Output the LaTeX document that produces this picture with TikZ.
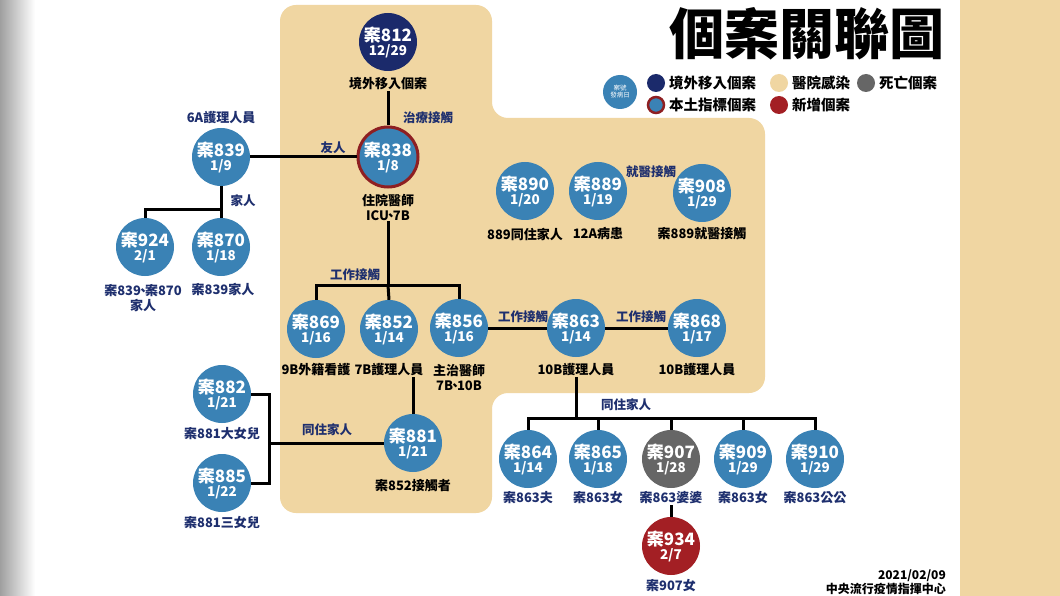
\documentclass[tikz,border=0pt]{standalone}
\usepackage{fontspec}
\setmainfont{Noto Sans CJK TC}
\definecolor{navy}{HTML}{1B2A6B}
\definecolor{cblue}{HTML}{3A82B5}
\definecolor{beige}{HTML}{F0D6A2}
\definecolor{dred}{HTML}{A31F24}
\definecolor{ring}{HTML}{8E1F22}
\definecolor{dgray}{HTML}{666666}
\definecolor{lbl}{HTML}{1E2F6E}
\begin{document}
\begin{tikzpicture}[x=1pt,y=-1pt,
  cs/.style={circle,minimum size=58pt,inner sep=0pt,fill=cblue,text=white,align=center,font=\bfseries\fontsize{17}{17}\selectfont},
  lb/.style={font=\bfseries\fontsize{13}{15}\selectfont,text=black,align=center,inner sep=1pt},
  nl/.style={lb,text=lbl},
  el/.style={font=\bfseries\fontsize{12.5}{13}\selectfont,text=lbl,inner sep=1pt},
  ln/.style={line width=3pt},
  lg/.style={font=\bfseries\fontsize{14.5}{14}\selectfont,anchor=west,inner sep=0pt}]
\newcommand{\cn}[2]{#1\\[-3pt]{\fontsize{13.5}{13.5}\selectfont #2}}
\newcommand{\dun}{\kern-4.5pt、\kern-4.5pt}
\useasboundingbox (0,0) rectangle (1060,596);
\fill[white] (0,0) rectangle (1060,596);
\shade[left color=gray!75,right color=white] (0,0) rectangle (35,596);
\fill[beige] (960,0) rectangle (1060,596);
\fill[beige,rounded corners=16pt] (280,5)--(492,5)--(492,118)--(765,118)--(765,393)--(492,393)--(492,513)--(280,513)--cycle;
% title
\node[font=\bfseries\fontsize{55}{55}\selectfont,anchor=east,inner sep=0pt] (title) at (945,34) {個案關聯圖};
% legend
\node[circle,fill=cblue,minimum size=34pt,inner sep=0pt,text=white,align=center,font=\fontsize{6.5}{7}\selectfont] (lgk) at (620,92) {案號\\發病日};
\node[circle,fill=navy,minimum size=18pt,inner sep=0pt] (lg1) at (656,83) {};
\node[lg] (lt1) at (669,83) {境外移入個案};
\node[circle,fill=beige,minimum size=18pt,inner sep=0pt] (lg2) at (779,83) {};
\node[lg] (lt2) at (792,83) {醫院感染};
\node[circle,fill=dgray,minimum size=18pt,inner sep=0pt] (lg3) at (866,83) {};
\node[lg] (lt3) at (879,83) {死亡個案};
\node[circle,fill=cblue,draw=ring,line width=2.5pt,minimum size=16pt,inner sep=0pt] (lg4) at (656,105) {};
\node[lg] (lt4) at (669,105) {本土指標個案};
\node[circle,fill=dred,minimum size=18pt,inner sep=0pt] (lg5) at (779,105) {};
\node[lg] (lt5) at (792,105) {新增個案};
% nodes
\node[cs,fill=navy] (c812) at (388,42) {\cn{案812}{12/29}};
\node[lb] (l812) at (388,84) {境外移入個案};
\node[cs,draw=ring,line width=3pt,minimum size=60pt] (c838) at (388,157) {\cn{案838}{1/8}};
\node[lb] (l838) at (388,207) {住院醫師\\ICU\dun 7B};
\node[cs] (c839) at (221,157) {\cn{案839}{1/9}};
\node[nl] (l839) at (221,118) {6A護理人員};
\node[cs] (c924) at (145,247) {\cn{案924}{2/1}};
\node[nl] (l924) at (143,298) {案839\dun 案870\\家人};
\node[cs] (c870) at (221,247) {\cn{案870}{1/18}};
\node[nl] (l870) at (223,290) {案839家人};
\node[cs] (c890) at (525,191) {\cn{案890}{1/20}};
\node[lb] (l890) at (525,234) {889同住家人};
\node[cs] (c889) at (598,191) {\cn{案889}{1/19}};
\node[lb] (l889) at (598,234) {12A病患};
\node[cs] (c908) at (702,193) {\cn{案908}{1/29}};
\node[lb] (l908) at (702,234) {案889就醫接觸};
\node[cs] (c869) at (316,329) {\cn{案869}{1/16}};
\node[lb] (l869) at (316,370) {9B外籍看護};
\node[cs] (c852) at (389,329) {\cn{案852}{1/14}};
\node[lb] (l852) at (389,370) {7B護理人員};
\node[cs] (c856) at (459,328) {\cn{案856}{1/16}};
\node[lb] (l856) at (459,377) {主治醫師\\7B\dun 10B};
\node[cs] (c863) at (576,328) {\cn{案863}{1/14}};
\node[lb] (l863) at (576,370) {10B護理人員};
\node[cs] (c868) at (697,328) {\cn{案868}{1/17}};
\node[lb] (l868) at (697,370) {10B護理人員};
\node[cs] (c882) at (222,394) {\cn{案882}{1/21}};
\node[nl] (l882) at (222,434) {案881大女兒};
\node[cs] (c885) at (222,483) {\cn{案885}{1/22}};
\node[nl] (l885) at (222,523) {案881三女兒};
\node[cs] (c881) at (413,443) {\cn{案881}{1/21}};
\node[lb] (l881) at (413,486) {案852接觸者};
\node[cs] (c864) at (528,459) {\cn{案864}{1/14}};
\node[nl] (l864) at (528,498) {案863夫};
\node[cs] (c865) at (598,459) {\cn{案865}{1/18}};
\node[nl] (l865) at (598,498) {案863女};
\node[cs,fill=dgray] (c907) at (671,459) {\cn{案907}{1/28}};
\node[nl] (l907) at (671,498) {案863婆婆};
\node[cs] (c909) at (743,459) {\cn{案909}{1/29}};
\node[nl] (l909) at (743,498) {案863女};
\node[cs] (c910) at (815,459) {\cn{案910}{1/29}};
\node[nl] (l910) at (815,498) {案863公公};
\node[cs,fill=dred] (c934) at (671,546) {\cn{案934}{2/7}};
\node[nl] (l934) at (671,586) {案907女};
% edge labels
\node[el] (e1) at (428,118) {治療接觸};
\node[el] (e2) at (333,148) {友人};
\node[el] (e3) at (243,201) {家人};
\node[el] (e4) at (355,275) {工作接觸};
\node[el] (e5) at (651,172) {就醫接觸};
\node[el] (e6) at (523,317) {工作接觸};
\node[el] (e7) at (641,317) {工作接觸};
\node[el] (e8) at (327,430) {同住家人};
\node[el] (e9) at (626,405) {同住家人};
% coordinates
\coordinate (b839) at (221,210);
\coordinate (b838) at (388,285);
\coordinate (b881) at (269,443);
\coordinate (b863) at (576,418);
% lines
\draw[ln] (l812.south) -- (c838.north);
\draw[ln] (c839) -- (c838);
\draw[ln] (c839) -- (b839);
\draw[ln] (c924.north) |- (b839) -| (c870.north);
\draw[ln] (l838.south) -- (b838);
\draw[ln] (c869.north) |- (b838) -| (c856.north);
\draw[ln] (b838) -- (c852.north);
\draw[ln] (c856) -- (c863);
\draw[ln] (c863) -- (c868);
\draw[ln] (l852.south -| c881.north) -- (c881.north);
\draw[ln] (c881) -- (b881);
\draw[ln] (c882.east) -| (b881) |- (c885.east);
\draw[ln] (l863.south) -- (b863);
\draw[ln] (c864.north) |- (b863) -| (c910.north);
\draw[ln] (c865.north) -- (c865.north |- b863);
\draw[ln] (c907.north) -- (c907.north |- b863);
\draw[ln] (c909.north) -- (c909.north |- b863);
\draw[ln] (l907.south) -- (c934.north);
% footer
\node[font=\bfseries\fontsize{12}{14}\selectfont,align=right,anchor=east,inner sep=0pt] (foot) at (946,582) {2021/02/09\\中央流行疫情指揮中心};
\end{tikzpicture}
\end{document}
